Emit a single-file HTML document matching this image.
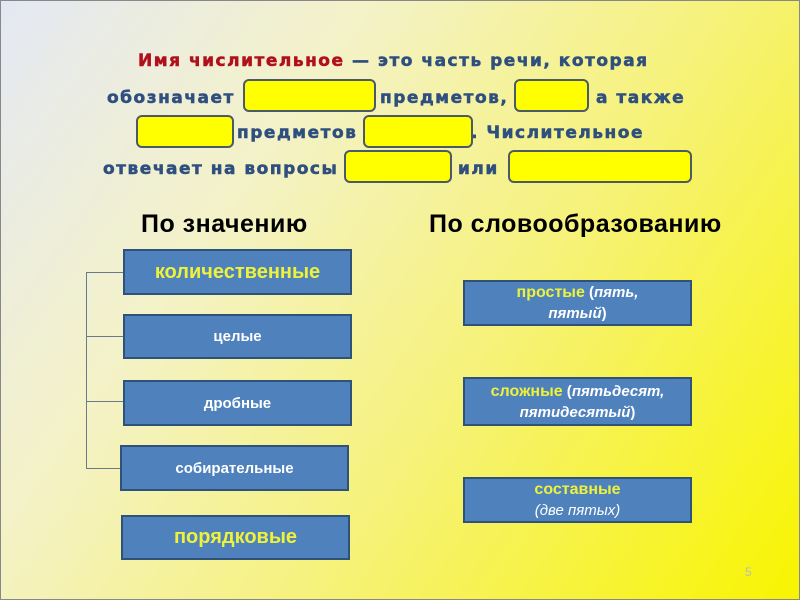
<!DOCTYPE html>
<html><head><meta charset="utf-8"><style>
body{margin:0;width:800px;height:600px;overflow:hidden}
#s{position:absolute;left:0;top:0;width:798px;height:598px;border:1px solid #888;
background:linear-gradient(125deg,#e4e8f4 0%,#f4f2c8 30%,#f6f27a 60%,#f8f400 100%);
font-family:"Liberation Sans","DejaVu Sans",sans-serif;}
.t{position:absolute;font-family:"DejaVu Sans",sans-serif;font-weight:bold;font-size:17px;color:#2f4f7f;letter-spacing:1.5px;white-space:nowrap;line-height:20px;-webkit-text-stroke:0.5px #2f4f7f}
.r{color:#b0101c;-webkit-text-stroke:0.5px #b0101c}
.y{position:absolute;background:#ffff00;border:2px solid #4a5a66;border-radius:6px;box-sizing:border-box}
.h{position:absolute;font-weight:bold;font-size:25px;color:#000;white-space:nowrap;letter-spacing:0.5px}
.b{position:absolute;background:#4f81bd;border:2px solid #2f527a;box-sizing:border-box;display:flex;align-items:center;justify-content:center;text-align:center;color:#fff;font-weight:bold;font-size:15px;line-height:21px}
.yl{color:#eef23a;font-size:20px}
.ys{color:#eef23a;font-size:16px}
i{font-weight:bold}
.ln{position:absolute;background:#6a7a88}
</style></head><body><div id="s">
<div class="t" style="left:137px;top:50px"><span class="r">Имя числительное</span> — это часть речи, которая</div>
<div class="t" style="left:106px;top:87px">обозначает</div>
<div class="t" style="left:379px;top:87px">предметов,</div>
<div class="t" style="left:595px;top:87px">а также</div>
<div class="t" style="left:236px;top:122px">предметов</div>
<div class="t" style="left:470px;top:122px">. Числительное</div>
<div class="t" style="left:102px;top:158px">отвечает на вопросы</div>
<div class="t" style="left:457px;top:158px">или</div>
<div class="y" style="left:242px;top:78px;width:133px;height:33px"></div>
<div class="y" style="left:513px;top:78px;width:75px;height:33px"></div>
<div class="y" style="left:135px;top:114px;width:98px;height:33px"></div>
<div class="y" style="left:362px;top:114px;width:110px;height:33px"></div>
<div class="y" style="left:343px;top:149px;width:108px;height:33px"></div>
<div class="y" style="left:507px;top:149px;width:184px;height:33px"></div>
<div class="h" style="left:140px;top:209px">По значению</div>
<div class="h" style="left:428px;top:209px">По словообразованию</div>
<div class="ln" style="left:85px;top:271px;width:1px;height:197px"></div>
<div class="ln" style="left:85px;top:271px;width:37px;height:1px"></div>
<div class="ln" style="left:85px;top:335px;width:37px;height:1px"></div>
<div class="ln" style="left:85px;top:400px;width:37px;height:1px"></div>
<div class="ln" style="left:85px;top:467px;width:34px;height:1px"></div>
<div class="b" style="left:122px;top:248px;width:229px;height:46px"><span class="yl">количественные</span></div>
<div class="b" style="left:122px;top:313px;width:229px;height:45px">целые</div>
<div class="b" style="left:122px;top:379px;width:229px;height:46px">дробные</div>
<div class="b" style="left:119px;top:444px;width:229px;height:46px">собирательные</div>
<div class="b" style="left:120px;top:514px;width:229px;height:45px"><span class="yl">порядковые</span></div>
<div class="b" style="left:462px;top:279px;width:229px;height:46px"><div><span class="ys">простые</span> (<i>пять,<br>пятый</i>)</div></div>
<div class="b" style="left:462px;top:376px;width:229px;height:49px"><div><span class="ys">сложные</span> (<i>пятьдесят,<br>пятидесятый</i>)</div></div>
<div class="b" style="left:462px;top:476px;width:229px;height:46px"><div><span class="ys">составные</span><br><span style="font-weight:normal;font-style:italic">(две пятых)</span></div></div>
<div style="position:absolute;left:744px;top:564px;color:#bbb;font-size:12px">5</div>
</div></body></html>
